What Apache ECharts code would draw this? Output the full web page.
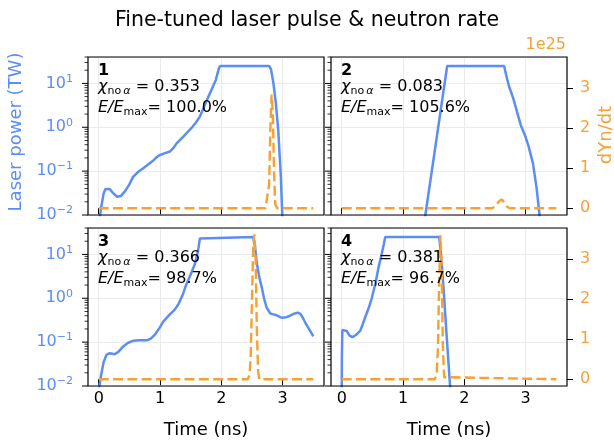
<!DOCTYPE html>
<html><head><meta charset="utf-8">
<script src="https://cdn.jsdelivr.net/npm/echarts@6/dist/echarts.min.js"></script>
<style>html,body{margin:0;padding:0;background:#fff}#c{width:614px;height:441px}</style>
</head><body><div id="c"></div>
<script>
const FONT = 'DejaVu Sans';
const BLUE = '#5b8ef5';
const ORANGE = '#f7a134';

const titleText = 'Fine-tuned laser pulse & neutron rate';
const panelLabels = ['1', '2', '3', '4'];
const chiValues = ['0.353', '0.083', '0.366', '0.381'];
const energyValues = ['100.0%', '105.6%', '98.7%', '96.7%'];
const xTicks = [0, 1, 2, 3];
const rightTicks = [0, 1, 2, 3];
const logMajorTicks = [0.01, 0.1, 1, 10];
const logMinorTicks = [0.02, 0.03, 0.04, 0.05, 0.06, 0.07, 0.08, 0.09, 0.2, 0.3, 0.4, 0.5, 0.6, 0.7, 0.8, 0.9, 2, 3, 4, 5, 6, 7, 8, 9, 20, 30, 40];

// Panel 1
const p1PowerTime = [0.00, 0.04, 0.08, 0.11, 0.14, 0.18, 0.24, 0.30, 0.36, 0.43, 0.50, 0.56, 0.64, 0.72, 0.80, 0.88, 0.94, 0.99, 1.06, 1.16, 1.22, 1.27, 1.33, 1.38, 1.45, 1.51, 1.58, 1.65, 1.73, 1.79, 1.84, 1.91, 1.96, 1.98, 2.78, 2.81, 2.85, 2.89, 2.93, 2.97, 3.00];
const p1Power = [0.006, 0.015, 0.031, 0.039, 0.042, 0.039, 0.031, 0.026, 0.027, 0.035, 0.05, 0.074, 0.095, 0.115, 0.14, 0.17, 0.205, 0.23, 0.25, 0.28, 0.34, 0.43, 0.52, 0.61, 0.78, 0.95, 1.25, 1.75, 3.2, 5.0, 7.2, 12, 22, 25, 25, 21, 10, 3.5, 0.8, 0.08, 0.006];
const p1RateTime = [0, 2.72, 2.75, 2.78, 2.80, 2.82, 2.84, 2.86, 2.88, 2.91, 3.5];
const p1Rate = [0, 0, 0.05, 0.6, 2.0, 2.84, 2.4, 0.9, 0.1, 0, 0];

// Panel 2
const p2PowerTime = [1.36, 1.72, 2.65, 2.68, 2.73, 2.80, 2.87, 2.92, 3.00, 3.05, 3.12, 3.18, 3.23];
const p2Power = [0.009, 25, 25, 16, 8.5, 4.5, 2.0, 1.13, 0.6, 0.36, 0.15, 0.04, 0.009];
const p2RateTime = [0, 2.46, 2.52, 2.57, 2.61, 2.65, 2.69, 2.74, 3.5];
const p2Rate = [0, 0, 0.08, 0.18, 0.22, 0.15, 0.05, 0, 0];

// Panel 3
const p3PowerTime = [0.00, 0.04, 0.08, 0.125, 0.18, 0.26, 0.32, 0.40, 0.48, 0.56, 0.66, 0.78, 0.85, 0.92, 1.00, 1.05, 1.16, 1.24, 1.30, 1.37, 1.43, 1.50, 1.57, 1.62, 1.65, 1.66, 2.52, 2.55, 2.58, 2.62, 2.66, 2.70, 2.74, 2.80, 2.85, 2.90, 2.96, 3.00, 3.06, 3.12, 3.20, 3.25, 3.29, 3.33, 3.38, 3.44, 3.50];
const p3Power = [0.008, 0.018, 0.035, 0.051, 0.056, 0.053, 0.06, 0.08, 0.097, 0.107, 0.11, 0.11, 0.12, 0.15, 0.22, 0.29, 0.43, 0.55, 0.73, 1.2, 2.1, 3.5, 6.1, 12, 23, 25, 25, 15, 6.1, 3.0, 1.75, 0.95, 0.61, 0.45, 0.43, 0.41, 0.37, 0.36, 0.37, 0.40, 0.45, 0.47, 0.44, 0.36, 0.26, 0.19, 0.135];
const p3RateTime = [0, 2.43, 2.46, 2.48, 2.50, 2.52, 2.54, 2.56, 2.58, 2.60, 2.62, 3.5];
const p3Rate = [0, 0, 0.1, 0.6, 2.0, 3.3, 3.62, 3.0, 1.2, 0.2, 0, 0];

// Panel 4
const p4PowerTime = [0.00, 0.003, 0.01, 0.04, 0.08, 0.13, 0.175, 0.23, 0.30, 0.34, 0.38, 0.44, 0.49, 0.55, 0.60, 0.65, 0.69, 0.71, 1.59, 1.62, 1.66, 1.71, 1.77];
const p4Power = [0.008, 0.05, 0.19, 0.21, 0.18, 0.14, 0.13, 0.145, 0.18, 0.25, 0.36, 0.6, 1.0, 2.2, 5.0, 10, 18, 25, 25, 10, 1.75, 0.15, 0.009];
const p4RateTime = [0, 1.52, 1.55, 1.57, 1.59, 1.61, 1.63, 1.65, 1.67, 1.69, 3.5];
const p4Rate = [0, 0, 0.15, 0.8, 2.5, 3.6, 2.8, 0.8, 0.05, 0, 0];

const powerTimes = [p1PowerTime, p2PowerTime, p3PowerTime, p4PowerTime];
const powers = [p1Power, p2Power, p3Power, p4Power];
const rateTimes = [p1RateTime, p2RateTime, p3RateTime, p4RateTime];
const rates = [p1Rate, p2Rate, p3Rate, p4Rate];

const zip = (a, b) => a.map((v, i) => [v, b[i]]);

const GW = 236, GH = 158;
const gridPos = [{left: 88, top: 57}, {left: 331, top: 57}, {left: 88, top: 228}, {left: 331, top: 228}];

function logLabel(v) {
  const e = Math.log10(v);
  const r = Math.round(e);
  if (Math.abs(e - r) > 1e-6) return '';
  return '{b|10}{s|' + (r < 0 ? '\u2212' : '') + Math.abs(r) + '}';
}

function tickRenderer(len, width) {
  return function (params, api) {
    const p = api.coord([0, api.value(1)]);
    const x0 = params.coordSys.x;
    return {type: 'line', silent: true,
      shape: {x1: x0 - len, y1: p[1], x2: x0, y2: p[1]},
      style: {stroke: '#000', lineWidth: width}};
  };
}

const grid = [], xAxis = [], yAxis = [], series = [], graphic = [];
for (let i = 0; i < 4; i++) {
  const g = gridPos[i];
  const isBottom = i >= 2, isLeft = i % 2 === 0;
  grid.push({left: g.left, top: g.top, width: GW, height: GH, show: false});
  xAxis.push({
    type: 'value', gridIndex: i, min: -0.175, max: 3.675,
    axisLine: {show: false},
    axisTick: {show: true, customValues: xTicks, length: 6, lineStyle: {color: '#000', width: 1}},
    axisLabel: {show: isBottom, customValues: xTicks, fontSize: 16, fontFamily: FONT, color: '#000', margin: 5},
    splitLine: {show: true, lineStyle: {color: '#ebebeb', width: 1}}
  });
  yAxis.push({
    type: 'log', logBase: 10, gridIndex: i, min: 0.01, max: 40, position: 'left',
    axisLine: {show: false},
    axisTick: {show: false},
    minorTick: {show: false},
    axisLabel: {show: isLeft, margin: 15, formatter: logLabel,
      rich: {
        b: {fontSize: 16, fontFamily: FONT, color: BLUE, lineHeight: 20, verticalAlign: 'middle'},
        s: {fontSize: 11, fontFamily: FONT, color: BLUE, lineHeight: 11, verticalAlign: 'top'}
      }},
    splitLine: {show: true, lineStyle: {color: '#ebebeb', width: 1}},
    minorSplitLine: {show: false}
  });
  yAxis.push({
    type: 'value', gridIndex: i, min: -0.17, max: 3.78, position: 'right',
    axisLine: {show: false},
    axisTick: {show: !isLeft, customValues: rightTicks, length: 6, lineStyle: {color: '#000', width: 1}},
    axisLabel: {show: !isLeft, customValues: rightTicks, fontSize: 16, fontFamily: FONT, color: ORANGE, margin: 13},
    splitLine: {show: false}
  });
  series.push({
    type: 'line', xAxisIndex: i, yAxisIndex: 2 * i, data: zip(powerTimes[i], powers[i]),
    showSymbol: false, symbol: 'none', clip: true, z: 2,
    lineStyle: {color: BLUE, width: 2.5}
  });
  series.push({
    type: 'line', xAxisIndex: i, yAxisIndex: 2 * i + 1, data: zip(rateTimes[i], rates[i]),
    showSymbol: false, symbol: 'none', clip: true, z: 3,
    lineStyle: {color: ORANGE, width: 2.4, type: [10, 4.3]}
  });
  series.push({
    type: 'custom', xAxisIndex: i, yAxisIndex: 2 * i, clip: false, silent: true, z: 5,
    data: logMinorTicks.map(v => [0, v]), renderItem: tickRenderer(3.5, 0.8)
  });
  series.push({
    type: 'custom', xAxisIndex: i, yAxisIndex: 2 * i, clip: false, silent: true, z: 5,
    data: logMajorTicks.map(v => [0, v]), renderItem: tickRenderer(6, 1)
  });
  // frame
  graphic.push({type: 'rect', z: 100, silent: true,
    shape: {x: g.left, y: g.top, width: GW, height: GH},
    style: {fill: 'none', stroke: '#000', lineWidth: 1.2}});
  // annotations
  const tx = g.left + 10;
  graphic.push({type: 'text', z: 101, x: tx, y: g.top + 13.5,
    style: {text: panelLabels[i], fill: '#000', font: 'bold 16px "DejaVu Sans"', align: 'left', verticalAlign: 'middle', textAlign: 'left', textVerticalAlign: 'middle'}});
  graphic.push({type: 'text', z: 101, x: tx, y: g.top + 29.5,
    style: {text: '{c|\u03c7}{s|no\u2009}{sa|\u03b1}{t| = ' + chiValues[i] + '}', fill: '#000',
      font: '16px "DejaVu Sans"', align: 'left', verticalAlign: 'middle', textAlign: 'left', textVerticalAlign: 'middle',
      rich: {
        c: {fontSize: 16, fontFamily: FONT, fontStyle: 'italic', lineHeight: 20, verticalAlign: 'middle', fill: '#000'},
        s: {fontSize: 11, fontFamily: FONT, lineHeight: 11, verticalAlign: 'bottom', fill: '#000'},
        sa: {fontSize: 11, fontFamily: FONT, fontStyle: 'italic', lineHeight: 11, verticalAlign: 'bottom', fill: '#000'},
        t: {fontSize: 16, fontFamily: FONT, lineHeight: 20, verticalAlign: 'middle', fill: '#000'}
      }}});
  graphic.push({type: 'text', z: 101, x: tx, y: g.top + 51,
    style: {text: '{i|E/E}{s|max}{t|= ' + energyValues[i] + '}', fill: '#000',
      font: '16px "DejaVu Sans"', align: 'left', verticalAlign: 'middle', textAlign: 'left', textVerticalAlign: 'middle',
      rich: {
        i: {fontSize: 16, fontFamily: FONT, fontStyle: 'italic', lineHeight: 20, verticalAlign: 'middle', fill: '#000'},
        s: {fontSize: 11, fontFamily: FONT, lineHeight: 11, verticalAlign: 'bottom', fill: '#000'},
        t: {fontSize: 16, fontFamily: FONT, lineHeight: 20, verticalAlign: 'middle', fill: '#000'}
      }}});
  if (isBottom) {
    graphic.push({type: 'text', z: 101, x: g.left + GW / 2, y: 430,
      style: {text: 'Time (ns)', fill: '#000', font: '18px "DejaVu Sans"', align: 'center', verticalAlign: 'middle', textAlign: 'center', textVerticalAlign: 'middle'}});
  }
}
graphic.push({type: 'text', z: 101, x: 307, y: 20.5,
  style: {text: titleText, fill: '#000', font: '20.5px "DejaVu Sans"', align: 'center', verticalAlign: 'middle', textAlign: 'center', textVerticalAlign: 'middle'}});
graphic.push({type: 'text', z: 101, x: 16.5, y: 132, rotation: Math.PI / 2,
  style: {text: 'Laser power (TW)', fill: BLUE, font: '18px "DejaVu Sans"', align: 'center', verticalAlign: 'middle', textAlign: 'center', textVerticalAlign: 'middle'}});
graphic.push({type: 'text', z: 101, x: 606, y: 135, rotation: Math.PI / 2,
  style: {text: 'dYn/dt', fill: ORANGE, font: '18px "DejaVu Sans"', align: 'center', verticalAlign: 'middle', textAlign: 'center', textVerticalAlign: 'middle'}});
graphic.push({type: 'text', z: 101, x: 566, y: 45,
  style: {text: '1e25', fill: ORANGE, font: '16px "DejaVu Sans"', align: 'right', verticalAlign: 'middle', textAlign: 'right', textVerticalAlign: 'middle'}});

const chart = echarts.init(document.getElementById('c'), null, {renderer: 'canvas'});
chart.setOption({
  animation: false,
  backgroundColor: '#fff',
  textStyle: {fontFamily: FONT},
  grid, xAxis, yAxis, series, graphic
});
</script>
</body></html>
